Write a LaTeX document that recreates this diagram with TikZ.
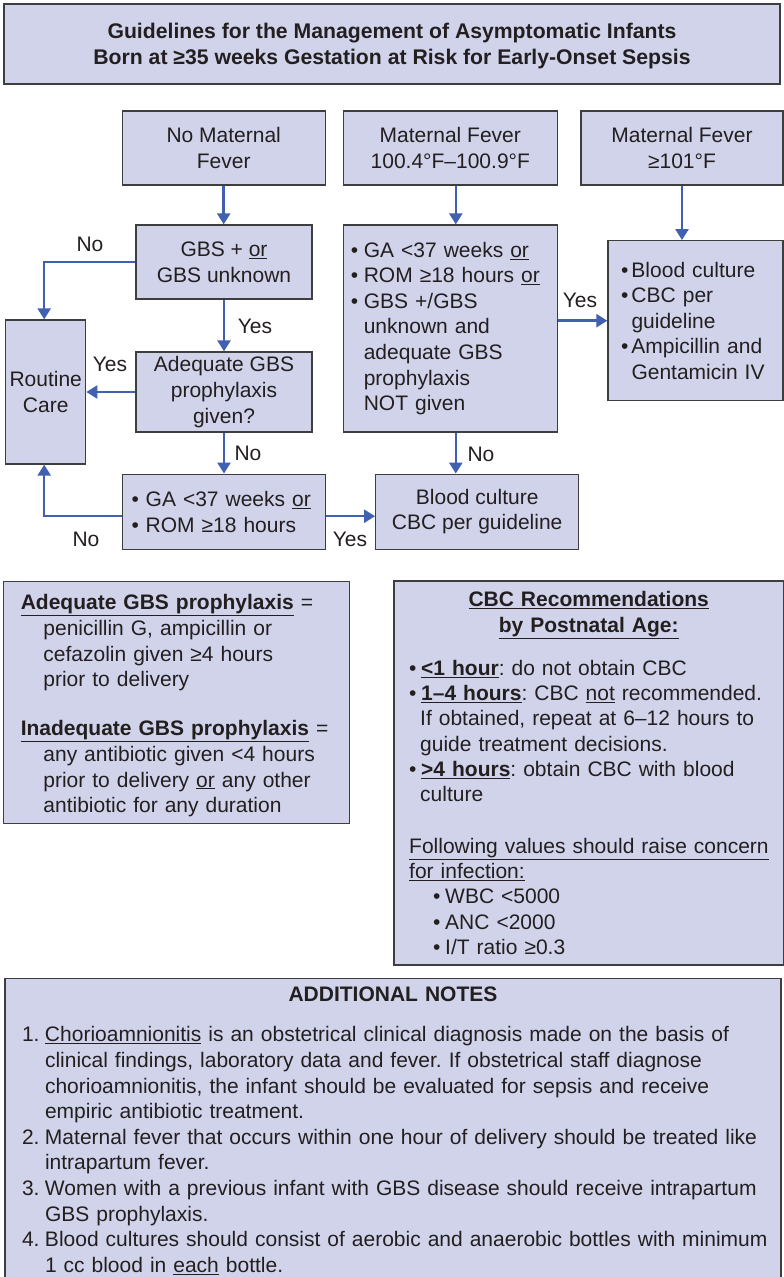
\documentclass[tikz,border=0pt]{standalone}
\usepackage{fontspec}
\setmainfont{Liberation Sans}
\usetikzlibrary{arrows.meta}
\definecolor{boxfill}{RGB}{208,211,234}
\definecolor{boxdraw}{RGB}{62,62,62}
\definecolor{arrowblue}{RGB}{66,96,176}
\definecolor{ink}{RGB}{35,31,32}
\newcommand\ul[1]{\underline{#1}}
\newcommand\bl[1][13pt]{\makebox[#1][l]{•}}
\frenchspacing
\begin{document}
\begin{tikzpicture}[x=1pt,y=-1pt,
  box/.style={draw=boxdraw, fill=boxfill, line width=1.3pt, inner sep=0pt,
    text=ink, font=\fontsize{21}{25.6}\selectfont, align=center},
  boxl/.style={box, align=left},
  arr/.style={draw=arrowblue, line width=2.5pt, -{Triangle[length=11pt,width=13pt]}},
  lbl/.style={text=ink, font=\fontsize{21}{25.6}\selectfont, inner sep=0pt,
    text height=15pt, text depth=0pt}]
\useasboundingbox (0,0) rectangle (784,1277);

% title
\node[box, minimum width=776pt, minimum height=80pt, text depth=0pt,
  font=\fontsize{21.2}{26}\selectfont\bfseries] (title) at (392,44)
  {Guidelines for the Management of Asymptomatic Infants\\Born at ≥35 weeks Gestation at Risk for Early-Onset Sepsis};

% top row
\node[box, minimum width=203pt, minimum height=74pt] (nomf) at (223.7,148) {No Maternal\\Fever};
\node[box, minimum width=214pt, minimum height=74pt] (midf) at (450.3,148) {Maternal Fever\\100.4°F–100.9°F};
\node[box, minimum width=202pt, minimum height=74pt] (hif) at (682,148) {Maternal Fever\\≥101°F};

% left column
\node[box, minimum width=176pt, minimum height=74pt] (gbs) at (224,262) {GBS + \ul{or}\\GBS unknown};
\node[box, minimum width=80pt, minimum height=144pt] (routine) at (45.7,392) {Routine\\Care};
\node[box, minimum width=176pt, minimum height=80pt] (adeq) at (224,392) {Adequate GBS\\prophylaxis\\given?};
\node[boxl, minimum width=203pt, minimum height=75pt, text width=184pt, inner xsep=9.5pt] (ga) at (223.7,511.7)
  {\mbox{\bl[14pt]GA <37 weeks \ul{or}}\\\mbox{\bl[14pt]ROM ≥18 hours}};

% middle column
\node[boxl, minimum width=214pt, minimum height=207pt, text width=199pt, inner xsep=7.5pt] (midbox) at (450.3,328.5)
  {\mbox{\bl GA <37 weeks \ul{or}}\\
   \mbox{\bl ROM ≥18 hours \ul{or}}\\
   \bl GBS +/GBS\\
   \hspace*{13pt}unknown and\\
   \hspace*{13pt}adequate GBS\\
   \hspace*{13pt}prophylaxis\\
   \hspace*{13pt}NOT given};
\node[box, minimum width=203pt, minimum height=75pt] (bc) at (477.2,511.7) {Blood culture\\CBC per guideline};

% right column
\node[boxl, minimum width=175pt, minimum height=160pt, text width=149pt, inner xsep=13pt] (rightbox) at (695.5,320.7)
  {\bl[10.5pt]Blood culture\\
   \bl[10.5pt]CBC per\\
   \hspace*{10.5pt}guideline\\
   \bl[10.5pt]Ampicillin and\\
   \hspace*{10.5pt}Gentamicin IV};

% connectors
\draw[arr] (nomf.south) -- (nomf.south |- gbs.north);
\draw[arr] (gbs.west) -| ([xshift=-1.5pt]routine.north);
\draw[arr] (gbs.south) -- (adeq.north);
\draw[arr] (adeq.west) -- (routine.east);
\draw[arr] (adeq.south) -- (adeq.south |- ga.north);
\draw[arr] ([yshift=-4.5pt]ga.west) -| ([xshift=-1.5pt]routine.south);
\draw[arr] ([yshift=-4.5pt]ga.east) -- ([yshift=-4.5pt]bc.west);
\draw[arr] ([xshift=5.5pt]midf.south) -- ([xshift=5.5pt]midbox.north);
\draw[arr] ([xshift=5.5pt]midbox.south) -- ([xshift=5.5pt]midbox.south |- bc.north);
\draw[arr] (midbox.east |- rightbox.west) -- (rightbox.west);
\draw[arr] (hif.south) -- (hif.south |- rightbox.north);

% labels
\node[lbl] (lno1) at (90,244) {No};
\node[lbl] (lyes1) at (255,326) {Yes};
\node[lbl] (lyes2) at (110,364) {Yes};
\node[lbl] (lno2) at (248,453) {No};
\node[lbl] (lno3) at (86,539) {No};
\node[lbl] (lyes3) at (350,539) {Yes};
\node[lbl] (lyes4) at (580,300) {Yes};
\node[lbl] (lno4) at (481,454) {No};

% definitions box
\node[boxl, minimum width=346pt, minimum height=241.6pt, text width=311pt, inner xsep=17.5pt,
  font=\fontsize{21}{25.7}\selectfont] (adeqdef) at (176.3,702.5)
  {\rule{0pt}{22pt}\mbox{\ul{\textbf{Adequate GBS prophylaxis}} =}\\
   \hspace*{22.6pt}penicillin G, ampicillin or\\
   \hspace*{22.6pt}cefazolin given ≥4 hours\\
   \hspace*{22.6pt}prior to delivery\\[23pt]
   \mbox{\ul{\textbf{Inadequate GBS prophylaxis}} =}\\
   \mbox{\hspace*{22.6pt}any antibiotic given <4 hours}\\
   \mbox{\hspace*{22.6pt}prior to delivery \ul{or} any other}\\
   \hspace*{22.6pt}antibiotic for any duration};

% CBC box
\node[boxl, minimum width=389.3pt, minimum height=384pt, text width=359pt, inner xsep=15pt,
  font=\fontsize{21}{25.3}\selectfont] (cbc) at (588.7,773)
  {\makebox[359pt]{\textbf{\ul{CBC Recommendations}}}\\
   \makebox[359pt]{\textbf{\ul{by Postnatal Age:}}}\\[18pt]
   \mbox{\bl[12pt]\textbf{\ul{<1 hour}}: do not obtain CBC}\\
   \mbox{\bl[12pt]\textbf{\ul{1–4 hours}}: CBC \ul{not} recommended.}\\
   \mbox{\hspace*{11pt}If obtained, repeat at 6–12 hours to}\\
   \hspace*{11pt}guide treatment decisions.\\
   \mbox{\bl[12pt]\textbf{\ul{>4 hours}}: obtain CBC with blood}\\
   \hspace*{11pt}culture\\[26pt]
   \mbox{\ul{Following values should raise concern}}\\
   \ul{for infection:}\\
   \hspace*{24pt}\bl[12pt]WBC <5000\\
   \hspace*{24pt}\bl[12pt]ANC <2000\\
   \hspace*{24pt}\bl[12pt]I/T ratio ≥0.3};

% notes box
\node[boxl, anchor=north, minimum width=776pt, text width=742pt, inner xsep=17pt, inner ysep=8.5pt] (notes) at (393,978)
  {\makebox[742pt]{\textbf{ADDITIONAL NOTES}}\\[14.5pt]
   \mbox{\makebox[23pt][l]{1.}\ul{Chorioamnionitis} is an obstetrical clinical diagnosis made on the basis of}\\
   \mbox{\hspace*{23pt}clinical findings, laboratory data and fever. If obstetrical staff diagnose}\\
   \mbox{\hspace*{23pt}chorioamnionitis, the infant should be evaluated for sepsis and receive}\\
   \hspace*{23pt}empiric antibiotic treatment.\\
   \mbox{\makebox[23pt][l]{2.}Maternal fever that occurs within one hour of delivery should be treated like}\\
   \hspace*{23pt}intrapartum fever.\\
   \mbox{\makebox[23pt][l]{3.}Women with a previous infant with GBS disease should receive intrapartum}\\
   \hspace*{23pt}GBS prophylaxis.\\
   \mbox{\makebox[23pt][l]{4.}Blood cultures should consist of aerobic and anaerobic bottles with minimum}\\
   \hspace*{23pt}1 cc blood in \ul{each} bottle.};
\end{tikzpicture}
\end{document}
